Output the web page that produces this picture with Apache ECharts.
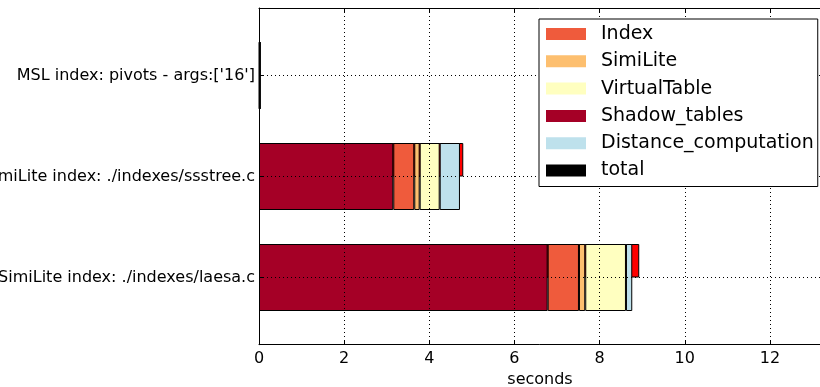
<!DOCTYPE html>
<html>
<head>
<meta charset="utf-8">
<script src="https://cdn.jsdelivr.net/npm/echarts@6/dist/echarts.min.js"></script>
<style>
html,body{margin:0;padding:0;background:#fff;}
#c{width:820px;height:387px;}
</style>
</head>
<body>
<div id="c"></div>
<script>
// Data
const categories = [
  "MSL index: pivots - args:['16']",
  "SimiLite index: ./indexes/ssstree.c",
  "SimiLite index: ./indexes/laesa.c"
];
const shadowTables = [0.01, 3.154, 6.780];
const indexTime = [0.005, 0.493, 0.735];
const simiLite = [0.002, 0.127, 0.148];
const virtualTable = [0.005, 0.470, 0.956];
const distanceComputation = [0.005, 0.476, 0.148];
const total = [0.03, 4.798, 8.931];
const xTicksMin = 0, xTicksMax = 13.2, xTickStep = 2;

const FONT = 'DejaVu Sans';
const colors = {
  Index: '#ef5b3c',
  SimiLite: '#fdbf6f',
  VirtualTable: '#ffffc0',
  Shadow_tables: '#a50026',
  Distance_computation: '#bee1ec',
  total: '#ff0000'
};
const dotted = {show: true, lineStyle: {color: '#000', width: 1, type: [1, 3]}};

const chart = echarts.init(document.getElementById('c'), null, {renderer: 'canvas'});

function part(name, data) {
  return {
    name: name, type: 'bar', stack: 'parts', data: data,
    xAxisIndex: 2, yAxisIndex: 1,
    barWidth: 67, barGap: '-100%',
    itemStyle: {color: colors[name], borderColor: '#000', borderWidth: 1},
    emphasis: {disabled: true}, animation: false
  };
}

const option = {
  animation: false,
  textStyle: {fontFamily: FONT},
  grid: [
    {left: 259, right: -1, top: 8, bottom: 42.3, containLabel: false, outerBoundsMode: 'none'},
    {left: 259, right: -1, top: 75.5, height: 202, containLabel: false, outerBoundsMode: 'none'}
  ],
  legend: {
    orient: 'vertical', left: 539, top: 19, z: 10,
    backgroundColor: '#fff', borderColor: '#000', borderWidth: 1,
    padding: [4, 4, 5, 7],
    itemWidth: 40, itemHeight: 12, itemGap: 5.3,
    icon: 'rect',
    itemStyle: {borderWidth: 0},
    textStyle: {fontSize: 19, fontFamily: FONT, color: '#000', lineHeight: 22, padding: [0, 0, 0, 10]},
    data: [
      {name: 'Index'}, {name: 'SimiLite'}, {name: 'VirtualTable'},
      {name: 'Shadow_tables'}, {name: 'Distance_computation'},
      {name: 'total', itemStyle: {color: '#000'}}
    ]
  },
  xAxis: [
    {
      gridIndex: 0, type: 'value', min: xTicksMin, max: xTicksMax, interval: xTickStep, z: 3,
      axisLine: {show: true, onZero: false, lineStyle: {color: '#000', width: 1}},
      axisTick: {show: true, inside: true, length: 4, lineStyle: {color: '#000'}},
      axisLabel: {fontSize: 16, color: '#000', margin: 6, fontFamily: FONT, showMaxLabel: false},
      splitLine: dotted,
      name: 'seconds', nameLocation: 'middle', nameGap: 25,
      nameTextStyle: {fontSize: 16, color: '#000', fontFamily: FONT}
    },
    {
      gridIndex: 0, type: 'value', position: 'top', min: xTicksMin, max: xTicksMax, interval: xTickStep, z: 3,
      axisLine: {show: true, onZero: false, lineStyle: {color: '#000', width: 1}},
      axisTick: {show: true, inside: true, length: 4, lineStyle: {color: '#000'}},
      axisLabel: {show: false}, splitLine: {show: false}
    },
    {
      gridIndex: 1, type: 'value', min: xTicksMin, max: xTicksMax, show: false
    }
  ],
  yAxis: [
    {
      gridIndex: 0, type: 'value', min: 0, max: 1, z: 3,
      axisLine: {show: true, onZero: false, lineStyle: {color: '#000', width: 1}},
      axisTick: {show: false}, axisLabel: {show: false}, splitLine: {show: false}
    },
    {
      gridIndex: 1, type: 'category', data: categories, inverse: true, boundaryGap: false, z: 3,
      axisLine: {show: false},
      axisTick: {show: true, inside: true, length: 4, lineStyle: {color: '#000'}},
      axisLabel: {fontSize: 16, color: '#000', margin: 4, fontFamily: FONT},
      splitLine: dotted
    }
  ],
  series: [
    {
      name: 'total', type: 'bar', data: total,
      xAxisIndex: 2, yAxisIndex: 1,
      barWidth: 33.5, barGap: '-100%',
      itemStyle: {color: colors.total, borderColor: '#000', borderWidth: 1},
      emphasis: {disabled: true}
    },
    part('Shadow_tables', shadowTables),
    part('Index', indexTime),
    part('SimiLite', simiLite),
    part('VirtualTable', virtualTable),
    part('Distance_computation', distanceComputation)
  ]
};
chart.setOption(option);
</script>
</body>
</html>
